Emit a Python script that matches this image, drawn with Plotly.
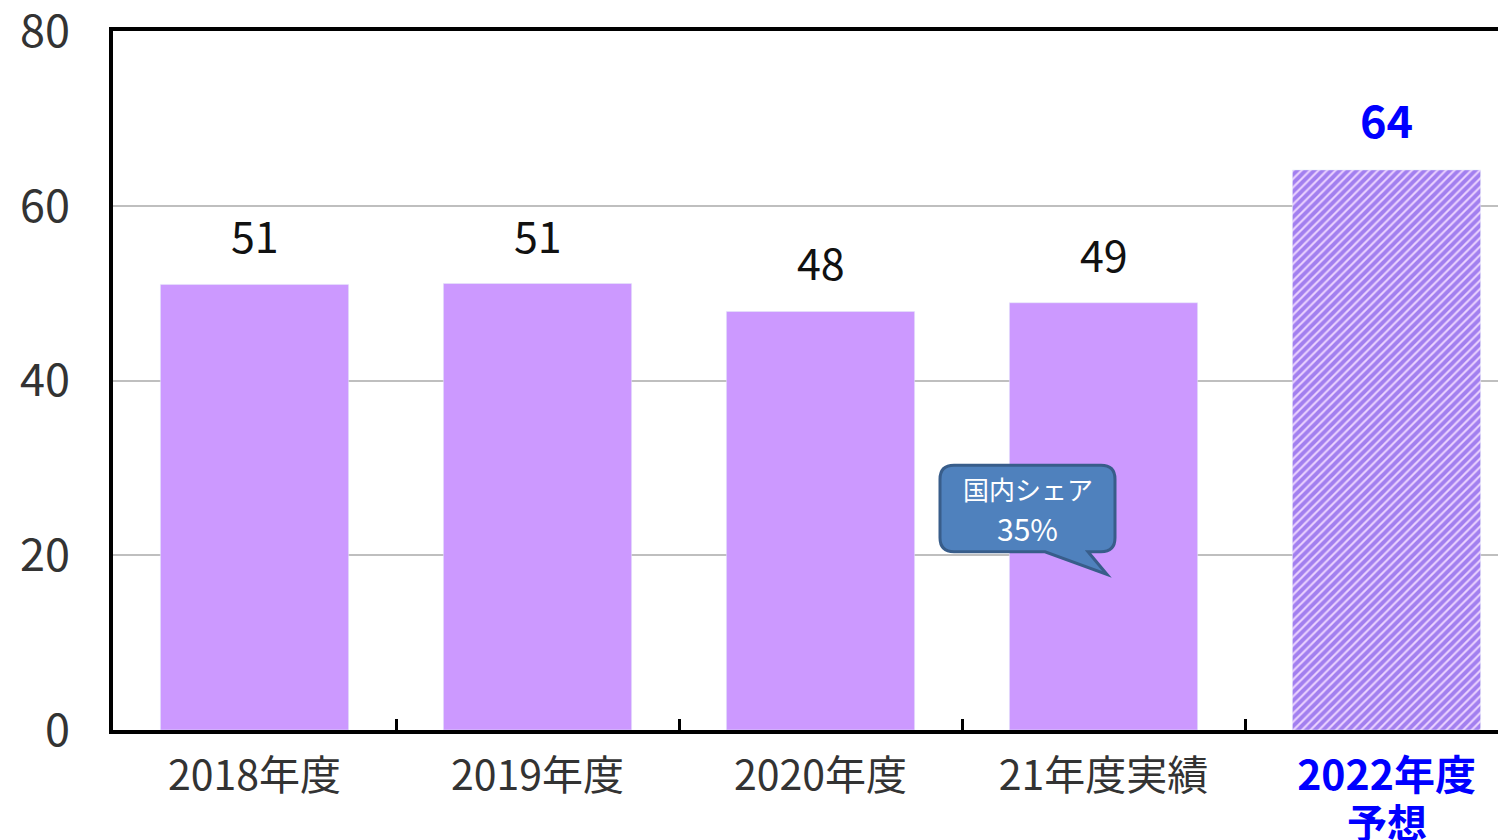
import plotly.graph_objects as go

# data
categories = ['2018年度', '2019年度', '2020年度', '21年度実績', '2022年度予想']
values = [51.0, 51.1, 47.9, 48.9, 64.1]
value_labels = ['51', '51', '48', '49', '64']
tick_text = ['2018年度', '2019年度', '2020年度', '21年度実績',
             '<b><span style="color:#0000FF">2022年度</span></b>']
forecast_note = '予想'
y_ticks = [0, 20, 40, 60, 80]

FONT = 'Noto Sans CJK JP'
PX_PER_CAT = 283  # category width in pixels
OFF = 8           # page body margin
L = 113 - OFF
PLOT_W = 1506 - L

fig = go.Figure()

# actual results
fig.add_trace(go.Bar(x=categories[:4], y=values[:4],
                     marker_color='#CC99FF', width=0.665,
                     hoverinfo='skip'))

# forecast bar, hatched
fig.add_trace(go.Bar(x=categories[4:], y=values[4:],
                     marker=dict(color='#EBD2FF',
                                 pattern=dict(shape='/', fgcolor='#5A2BE0',
                                              size=6, solidity=0.65)),
                     width=0.665, hoverinfo='skip'))

# value labels above bars
for i, (c, v, lab) in enumerate(zip(categories, values, value_labels)):
    last = i == len(categories) - 1
    fig.add_annotation(x=c, y=v, text='<b>' + lab + '</b>' if last else lab,
                       showarrow=False, yanchor='bottom', yshift=17,
                       font=dict(family=FONT, size=45 if last else 43,
                                 color='#0000FF' if last else '#111111'))

# second line of the forecast category label
fig.add_annotation(x=categories[-1], y=0, text='<b>' + forecast_note + '</b>',
                   showarrow=False, yanchor='middle', yshift=-91,
                   font=dict(family=FONT, size=40, color='#0000FF'))

# callout bubble "国内シェア 35%"
def px_to_paper(px):
    return (px - 113) / PLOT_W

x0, x1 = px_to_paper(940), px_to_paper(1115)
y0, y1 = 20.4, 30.3
rx, ry = 14 / PLOT_W, 1.6
tx0, tx1, tipx, tipy = px_to_paper(1045), px_to_paper(1088), px_to_paper(1107), 17.8
path = (f'M {x0 + rx},{y1} L {x1 - rx},{y1} Q {x1},{y1} {x1},{y1 - ry} '
        f'L {x1},{y0 + ry} Q {x1},{y0} {x1 - rx},{y0} '
        f'L {tx1},{y0} L {tipx},{tipy} L {tx0},{y0} '
        f'L {x0 + rx},{y0} Q {x0},{y0} {x0},{y0 + ry} '
        f'L {x0},{y1 - ry} Q {x0},{y1} {x0 + rx},{y1} Z')
fig.add_shape(type='path', path=path, xref='paper', yref='y',
              fillcolor='#4F81BD', line=dict(color='#385D8A', width=3))
fig.add_annotation(x=(x0 + x1) / 2, y=27.6, xref='paper', yref='y',
                   text='国内シェア', showarrow=False,
                   font=dict(family=FONT, size=26, color='white'))
fig.add_annotation(x=(x0 + x1) / 2, y=23.1, xref='paper', yref='y',
                   text='35%', showarrow=False,
                   font=dict(family=FONT, size=30, color='white'))

fig.update_layout(
    width=1506, height=840,
    margin=dict(l=L, r=0, t=31 - OFF, b=840 - (730 - OFF)),
    plot_bgcolor='white', paper_bgcolor='white',
    showlegend=False,
    font=dict(family=FONT, size=42, color='#333333'),
)

fig.update_xaxes(
    tickvals=categories, ticktext=tick_text,
    range=[-0.5, -0.5 + PLOT_W / PX_PER_CAT],
    showline=True, linecolor='black', linewidth=4, mirror=True,
    ticks='inside', tickson='boundaries', ticklen=11, tickwidth=3,
    tickcolor='black', showgrid=False, automargin=False,
    ticklabelstandoff=7,
    tickfont=dict(family=FONT, size=41, color='#333333'),
)

fig.update_yaxes(
    range=[0, 80], tickvals=y_ticks,
    showline=True, linecolor='black', linewidth=4,
    showgrid=True, gridcolor='#BFBFBF', gridwidth=1.5,
    ticks='', ticklabelstandoff=30, zeroline=False,
    ticklabeloverflow='allow', automargin=False,
    tickfont=dict(family=FONT, size=45, color='#333333'),
)

fig.write_html('out.html')
